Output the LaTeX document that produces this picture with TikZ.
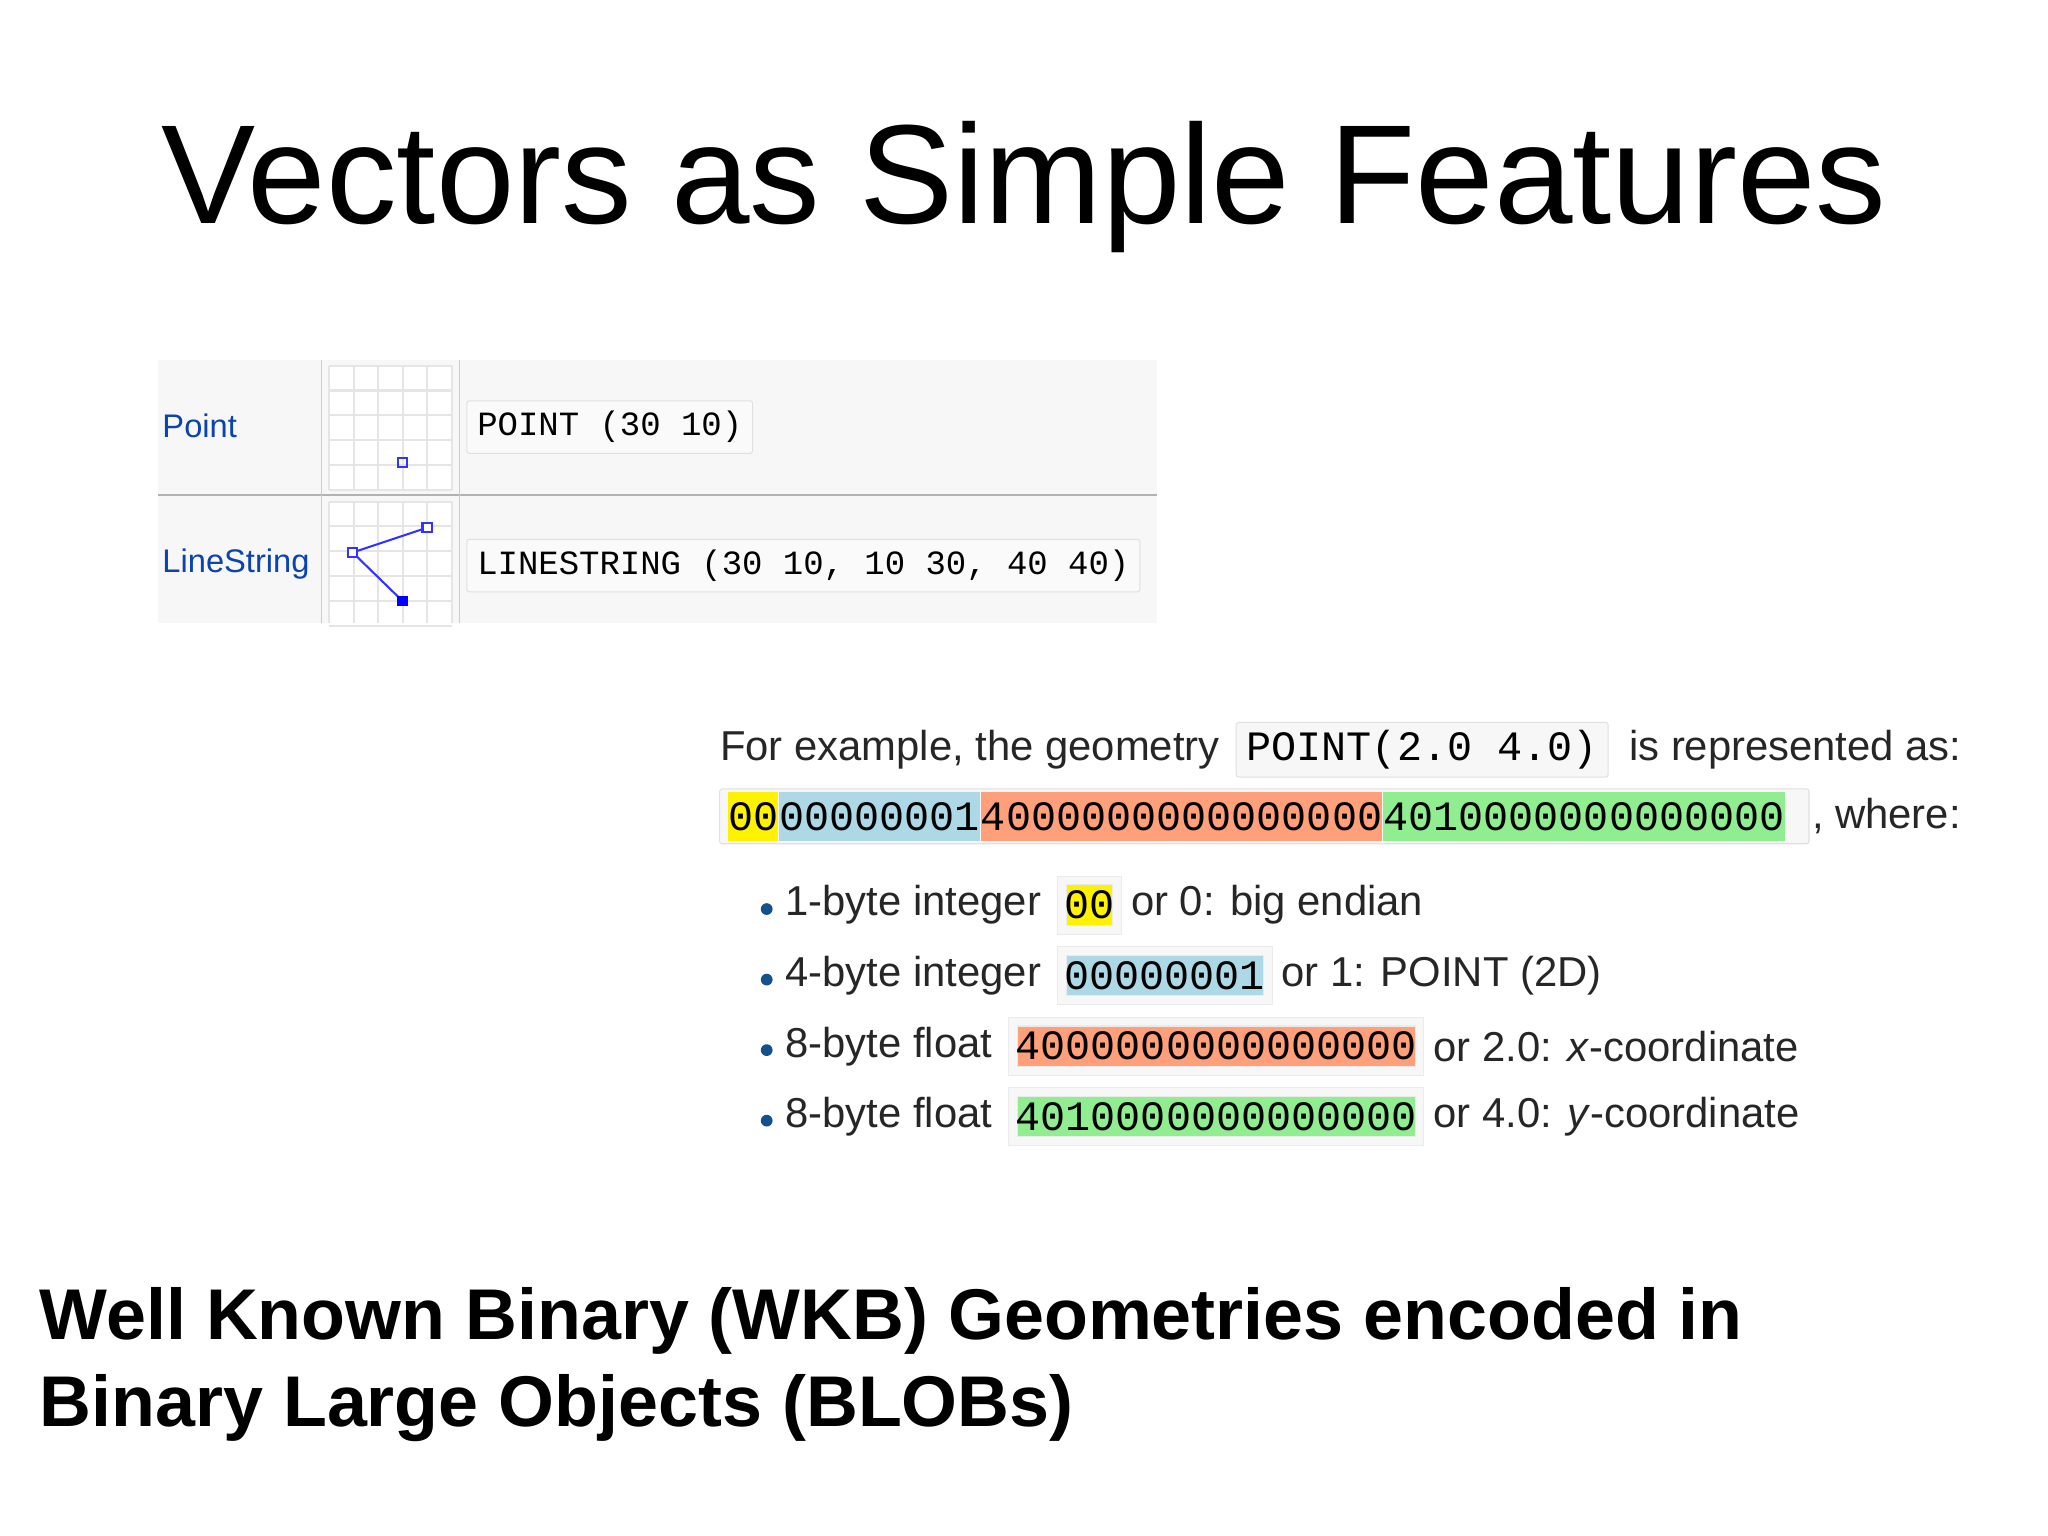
\documentclass[tikz,border=0pt]{standalone}
\usepackage{fontspec}
\setmainfont{Liberation Sans}
\setmonofont{Liberation Mono}
\begin{document}
\begin{tikzpicture}[x=0.5pt,y=-0.5pt,
  txt/.style={anchor=west,inner sep=0pt,font=\fontsize{16}{19}\selectfont,text=black!85},
  code/.style={anchor=west,draw=black!12,fill=black!3,rounded corners=1pt,inner xsep=4pt,inner ysep=3pt,font=\ttfamily\fontsize{16}{19}\selectfont},
  seg/.style={anchor=west,inner xsep=0pt,inner ysep=4pt,font=\ttfamily\fontsize{16}{19}\selectfont},
  frame/.style={draw=black!12,fill=black!3,rounded corners=1pt},
  tcode/.style={anchor=west,draw=black!12,fill=black!2,rounded corners=1pt,inner xsep=4pt,inner ysep=4pt,font=\ttfamily\fontsize{13}{16}\selectfont},
  lbl/.style={anchor=west,inner sep=0pt,text={rgb,255:red,11;green,68;blue,173},font=\fontsize{12.5}{15}\selectfont},
  gl/.style={draw=black!10,line width=0.8pt},
  geo/.style={draw=blue!80,line width=0.8pt},
  bul/.style={circle,fill={rgb,255:red,20;green,80;blue,140},inner sep=0pt,minimum size=4.5pt}]
\useasboundingbox (0,0) rectangle (1568,1176);
\fill[white] (0,0) rectangle (1568,1176);
% title
\node (title) [anchor=center,inner sep=0pt,font=\fontsize{54}{60}\selectfont] at (784,143) {Vectors as Simple Features};
% table
\fill[black!3] (121,276) rectangle (886,477);
\draw[black!30] (121,379) -- (886,379);
\draw[black!20] (246,276) -- (246,477);
\draw[black!20] (352,276) -- (352,477);
\foreach \yy in {280,384}{
  \fill[white] (252,\yy) rectangle (346,{min(\yy+95,477)});
  \foreach \i in {0,...,5}{\draw[gl] (252+\i*18.8,\yy) -- (252+\i*18.8,{min(\yy+95,477)});}
  \foreach \i in {0,...,5}{\draw[gl] (252,\yy+\i*19) -- (346,\yy+\i*19);}
}
\node (pl) [lbl] at (124,326) {Point};
\node (ll) [lbl] at (124,432) {LineString};
\node (pc) [tcode] at (357,327) {POINT (30 10)};
\node (lc) [tcode] at (357,433) {LINESTRING (30 10, 10 30, 40 40)};
\draw[geo] (304.5,350.5) rectangle (311.5,357.5);
\coordinate (p1) at (327,404); \coordinate (p2) at (270,423); \coordinate (p3) at (308,460);
\draw[geo] (p1) -- (p2) -- (p3);
\draw[geo,fill=white] (323.5,400.5) rectangle (330.5,407.5);
\draw[geo,fill=white] (266.5,419.5) rectangle (273.5,426.5);
\fill[blue] (304,456) rectangle (312,464);
% example text
\node (t1) [txt] at (551,574) {For example, the geometry};
\node (c1) [code] at (946,574) {POINT(2.0 4.0)};
\node (t2) [txt] at (1247,574) {is represented as:};
\draw[frame] (551,604) rectangle (1385,646);
\node (h1) [seg,fill=yellow] at (557,625) {00};
\node (h2) [seg,fill={rgb,255:red,173;green,216;blue,230}] at (h1.east) {00000001};
\node (h3) [seg,fill={rgb,255:red,255;green,160;blue,122}] at (h2.east) {4000000000000000};
\node (h4) [seg,fill={rgb,255:red,144;green,238;blue,144}] at (h3.east) {4010000000000000};
\node (t3) [txt] at (1387,625) {, where:};
% bullets
\foreach \yy/\lab/\val/\col/\rest [count=\k] in {
  693/1-byte integer/00/yellow/or 0: big endian,
  747/4-byte integer/00000001/{rgb,255:red,173;green,216;blue,230}/or 1: POINT (2D),
  801/8-byte float/4000000000000000/{rgb,255:red,255;green,160;blue,122}/{or 2.0: \textit{x}-coordinate},
  855/8-byte float/4010000000000000/{rgb,255:red,144;green,238;blue,144}/{or 4.0: \textit{y}-coordinate}}{
  \node (b\k) [bul] at (587,\yy+3) {};
  \node (bl\k) [txt] at (601,\yy) {\lab};
  \node (bv\k) [seg,fill=\col,inner xsep=1pt,draw=black!8,double=black!3,double distance=3pt,xshift=7.5pt] at (bl\k.east) {\val};
  \node (br\k) [txt,xshift=5pt] at (bv\k.east) {\rest};
}
% bottom
\node (bt) [anchor=north west,inner sep=0pt,align=left,font=\bfseries\fontsize{27.5}{33.5}\selectfont] at (30,985) {Well Known Binary (WKB) Geometries encoded in\\Binary Large Objects (BLOBs)};
\end{tikzpicture}
\end{document}
